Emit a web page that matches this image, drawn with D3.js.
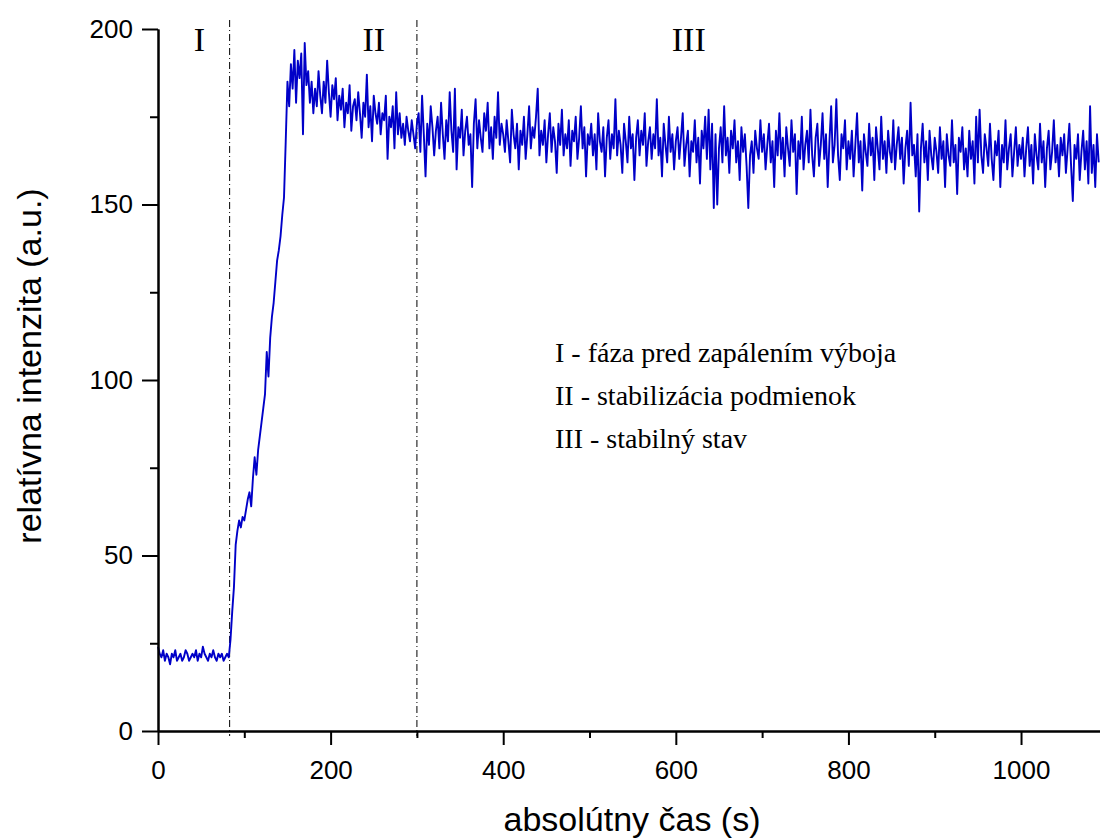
<!DOCTYPE html>
<html>
<head>
<meta charset="utf-8">
<script src="https://cdn.jsdelivr.net/npm/d3@7"></script>
<style>
  html, body { margin: 0; padding: 0; background: #fff; }
  svg { display: block; }
</style>
</head>
<body>
<svg id="chart" width="1100" height="838"></svg>
<script>
// ---- data ----
const timeStart = 0;   // s
const timeStep = 2;    // s between samples

// phase I (0 - 82 s)
const phase1 = [24,22,21,23,20,22,21,19,22,21, 23,20,21,22,20,21,23,22,20,21,
  22,21,23,20,22,21,24,22,21,20, 22,21,23,21,20,22,21,22,20,21, 22,21];
// ignition / rise (84 - 180 s)
const riseVals = [26,34,41,53,57,60,58,61,60,63, 66,68,64,72,78,73,80,84,88,92,
  96,108,101,112,118,122,128,134,137,141, 147,152,168,185,178,190,183,194,179,191,
  186,193,170,196,184,188,179,185,176];
// phase II (182 - 300 s)
const phase2 = [183,178,188,181,176,185,179,191,182,175, 184,180,186,174,181,177,183,172,179,176,
  184,171,178,180,174,182,176,169,179,175, 187,172,178,168,181,176,173,179,170,176,
  174,181,163,175,172,178,166,182,170,176, 169,173,167,175,171,168,174,170,166,173];
// phase III (302 - 1090 s)
const phase3 = [
  176,165,181,170,158,173,167,178,172,164, 171,175,166,179,170,163,174,168,182,171,
  165,183,160,172,169,177,164,171,175,167, 170,155,173,180,166,174,169,165,176,171,
  179,166,172,163,175,169,182,167,173,170,
  165,174,168,162,177,170,166,173,160,171, 167,175,163,170,178,166,172,169,175,183,
  164,171,167,174,162,170,176,165,172,168, 159,173,167,177,164,170,166,174,161,171,
  168,175,163,169,178,166,172,158,170,167,
  173,164,170,160,176,168,165,172,158,169, 174,163,170,166,180,164,171,167,159,173,
  168,162,175,166,170,157,169,174,164,171, 167,176,161,168,172,163,170,166,180,164,
  169,158,173,167,162,175,165,170,160,168,
  172,163,169,176,161,167,171,158,168,165, 174,162,169,156,171,166,175,163,177,160,
  173,149,170,150,166,172,162,178,164,169, 159,171,166,174,162,168,157,172,165,170,
  161,149,164,168,159,171,166,163,174,165,
  170,160,167,173,162,168,155,171,164,176, 163,169,158,172,166,161,174,165,170,153,
  168,163,175,160,167,171,162,177,164,158, 169,173,161,167,176,163,170,155,168,178,
  162,167,180,164,157,170,166,174,160,168,
  163,171,158,167,176,162,168,154,170,165, 161,173,164,169,157,172,166,160,175,163,
  168,159,171,165,162,174,160,167,172,163, 169,156,166,171,161,179,164,167,158,170,
  148,166,173,162,168,157,171,164,160,169,
  165,159,172,163,168,155,170,164,161,174, 162,167,153,169,165,172,160,166,158,171,
  163,168,156,175,162,177,164,159,170,166, 161,173,163,157,168,164,171,155,167,162,
  174,160,166,170,158,165,172,161,167,163,
  169,158,166,172,161,167,156,170,164,160, 173,162,168,155,166,171,160,165,174,162,
  167,158,169,164,170,159,166,173,161,151, 167,163,170,157,165,171,160,168,156,178,
  159,167,155,170,162];

const intensity = [...phase1, ...riseVals, ...phase2, ...phase3];

const phaseBoundaries = [83, 300];
const phaseLabels = [{text: "I", t: 48}, {text: "II", t: 250}, {text: "III", t: 615}];
const legendLines = ["I - fáza pred zapálením výboja", "II - stabilizácia podmienok", "III - stabilný stav"];

const xMajorTicks = [0, 200, 400, 600, 800, 1000];
const xMinorTicks = [100, 300, 500, 700, 900];
const yMajorTicks = [0, 50, 100, 150, 200];
const yMinorTicks = [25, 75, 125, 175];

const xTitle = "absolútny čas (s)";
const yTitle = "relatívna intenzita (a.u.)";

// ---- chart ----
const data = intensity.map((v, i) => ({t: timeStart + i * timeStep, v}));

const svg = d3.select("#chart");
const x = d3.scaleLinear().domain([0, 1091.5]).range([158, 1100]);
const y = d3.scaleLinear().domain([0, 200]).range([731, 29]);

const sans = "Arial, 'Liberation Sans', sans-serif";
const serif = "'Times New Roman', 'Liberation Serif', serif";

// phase boundaries
svg.selectAll("line.phase").data(phaseBoundaries).enter().append("line")
  .attr("class", "phase")
  .attr("x1", d => x(d)).attr("x2", d => x(d))
  .attr("y1", 20).attr("y2", 736)
  .attr("stroke", "#000").attr("stroke-width", 1)
  .attr("stroke-dasharray", "7,3,1,3");

// line
svg.append("path").datum(data)
  .attr("fill", "none")
  .attr("stroke", "#0000C8")
  .attr("stroke-width", 1.9)
  .attr("stroke-linejoin", "round")
  .attr("d", d3.line().x(d => x(d.t)).y(d => y(d.v)));

// axes
function styleAxis(g) {
  g.selectAll("path.domain").attr("stroke", "#000").attr("stroke-width", 2);
  g.selectAll(".tick line").attr("stroke", "#000").attr("stroke-width", 2);
  g.selectAll("text").attr("font-family", sans).attr("font-size", 26).attr("fill", "#000");
}

const xAxisMinor = svg.append("g").attr("transform", "translate(0,731)")
  .call(d3.axisBottom(x).tickValues(xMinorTicks).tickSize(7).tickSizeOuter(0).tickFormat(""));
styleAxis(xAxisMinor);
const xAxis = svg.append("g").attr("transform", "translate(0,731)")
  .call(d3.axisBottom(x).tickValues(xMajorTicks).tickSize(14).tickPadding(16).tickSizeOuter(0).tickFormat(d3.format("d")));
styleAxis(xAxis);

const yAxisMinor = svg.append("g").attr("transform", "translate(158,0)")
  .call(d3.axisLeft(y).tickValues(yMinorTicks).tickSize(8).tickSizeOuter(0).tickFormat(""));
styleAxis(yAxisMinor);
const yAxis = svg.append("g").attr("transform", "translate(158,0)")
  .call(d3.axisLeft(y).tickValues(yMajorTicks).tickSize(16).tickPadding(9).tickSizeOuter(0).tickFormat(d3.format("d")));
styleAxis(yAxis);

// axis titles
svg.append("text")
  .attr("x", 632).attr("y", 831)
  .attr("text-anchor", "middle")
  .attr("font-family", sans).attr("font-size", 34)
  .text(xTitle);

svg.append("text")
  .attr("transform", "translate(41,366) rotate(-90)")
  .attr("text-anchor", "middle")
  .attr("font-family", sans).attr("font-size", 34)
  .text(yTitle);

// phase labels
svg.selectAll("text.phaseLabel").data(phaseLabels).enter().append("text")
  .attr("class", "phaseLabel")
  .attr("x", d => x(d.t)).attr("y", 51)
  .attr("text-anchor", "middle")
  .attr("font-family", serif).attr("font-size", 34)
  .text(d => d.text);

// legend text
svg.selectAll("text.legend").data(legendLines).enter().append("text")
  .attr("class", "legend")
  .attr("x", 555).attr("y", (d, i) => 362 + i * 43)
  .attr("font-family", serif).attr("font-size", 28)
  .text(d => d);
</script>
</body>
</html>
